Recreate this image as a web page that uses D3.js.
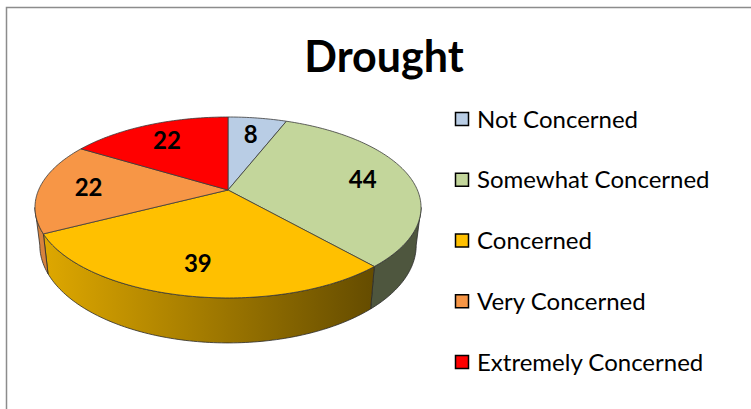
<!DOCTYPE html>
<html>
<head>
<meta charset="utf-8">
<script src="https://cdn.jsdelivr.net/npm/d3@7"></script>
<style>
  body { margin: 0; background: #fff; }
  svg { display: block; font-family: Lato, "Open Sans", sans-serif; }
</style>
</head>
<body>
<div id="my_dataviz"></div>
<script>
var categories = ["Not Concerned", "Somewhat Concerned", "Concerned", "Very Concerned", "Extremely Concerned"];
var values = [8, 44, 39, 22, 22];
var colors = ["#b9cde5", "#c3d69b", "#ffc000", "#f79646", "#ff0000"];
var title = "Drought";

var width = 751,
    height = 409,
    cx = 228, cy = 190,   // pie centre on screen
    ax = 189.4,           // horizontal radius
    by = 87.1,            // vertical radius
    persp = -0.193,       // perspective factor (near side bigger)
    depth = 36.3,         // thickness
    bottomShrink = 0.975;

var svg = d3.select("#my_dataviz")
    .append("svg")
    .attr("width", width)
    .attr("height", height);

// chart frame (only top and left edges visible in crop)
svg.append("rect")
    .attr("x", 6.5).attr("y", 7.5)
    .attr("width", width + 20).attr("height", height + 20)
    .attr("fill", "none")
    .attr("stroke", "#8c8c8c")
    .attr("stroke-width", 1.5);

svg.append("text")
    .attr("x", 384).attr("y", 72)
    .attr("text-anchor", "middle")
    .attr("font-weight", "bold")
    .attr("font-size", 43)
    .text(title);

// project angle (clockwise from 12 o'clock) and radius fraction to screen
function proj(theta, f, bottom) {
    var u = f * Math.sin(theta),
        v = -f * Math.cos(theta),
        w = 1 + persp * v;
    var s = bottom ? bottomShrink : 1;
    return [cx + s * ax * u / w, cy + (by * v + (bottom ? depth : 0)) / w];
}

function arcPts(a0, a1, bottom) {
    var n = Math.max(2, Math.ceil(Math.abs(a1 - a0) / (Math.PI / 180))),
        pts = [];
    for (var i = 0; i <= n; i++) {
        pts.push(proj(a0 + (a1 - a0) * i / n, 1, bottom));
    }
    return pts;
}

var color = d3.scaleOrdinal().domain(categories).range(colors);

var pie = d3.pie().sort(null).value(function(d, i) { return values[i]; });
var arcs = pie(categories);

// visible front wall goes between the two silhouette points
var wallStart = Math.acos(persp),          // about 101 deg
    wallEnd = 2 * Math.PI - Math.acos(persp);

var defs = svg.append("defs");
arcs.forEach(function(d, i) {
    var g = defs.append("linearGradient")
        .attr("id", "wall" + i)
        .attr("gradientUnits", "userSpaceOnUse")
        .attr("x1", cx - ax).attr("x2", cx + ax * 0.75)
        .attr("y1", 0).attr("y2", 0);
    var base = color(d.data);
    g.append("stop").attr("offset", 0).attr("stop-color", d3.interpolateRgb(base, "#000")(0.12));
    g.append("stop").attr("offset", 1).attr("stop-color", d3.interpolateRgb(base, "#000")(0.6));
});

var line = d3.line();

// walls
svg.append("g").selectAll("path")
    .data(arcs.filter(function(d) { return d.endAngle > wallStart && d.startAngle < wallEnd; }))
    .join("path")
    .attr("d", function(d) {
        var a0 = Math.max(d.startAngle, wallStart),
            a1 = Math.min(d.endAngle, wallEnd);
        var pts = arcPts(a0, a1, false).concat(arcPts(a1, a0, true));
        return line(pts) + "Z";
    })
    .attr("fill", function(d) { return "url(#wall" + d.index + ")"; })
    .attr("stroke", "#2b2b2b")
    .attr("stroke-width", 0.8)
    .attr("stroke-linejoin", "round");

// top faces
svg.append("g").selectAll("path")
    .data(arcs)
    .join("path")
    .attr("d", function(d) {
        var pts = [proj(0, 0, false)].concat(arcPts(d.startAngle, d.endAngle, false));
        return line(pts) + "Z";
    })
    .attr("fill", function(d) { return color(d.data); })
    .attr("stroke", "#3a3a3a")
    .attr("stroke-width", 0.8)
    .attr("stroke-linejoin", "round");

// data labels
svg.append("g").selectAll("text")
    .data(arcs)
    .join("text")
    .attr("x", function(d) { return proj((d.startAngle + d.endAngle) / 2, 0.74, false)[0]; })
    .attr("y", function(d) { return proj((d.startAngle + d.endAngle) / 2, 0.74, false)[1]; })
    .attr("dy", "0.36em")
    .attr("text-anchor", "middle")
    .attr("font-weight", "bold")
    .attr("font-size", 24)
    .text(function(d) { return d.value; });

// legend
var rowY = d3.scalePoint().domain(categories).range([119, 362]);

var legend = svg.append("g").selectAll("g")
    .data(categories)
    .join("g")
    .attr("transform", function(d) { return "translate(455," + rowY(d) + ")"; });

legend.append("rect")
    .attr("x", 0.5).attr("y", -6.5)
    .attr("width", 13).attr("height", 13)
    .attr("fill", function(d) { return color(d); })
    .attr("stroke", "#000")
    .attr("stroke-width", 1.5);

legend.append("text")
    .attr("x", 22).attr("y", 0)
    .attr("dy", "0.36em")
    .attr("font-size", 24)
    .attr("fill", "#000")
    .text(function(d) { return d; });
</script>
</body>
</html>
